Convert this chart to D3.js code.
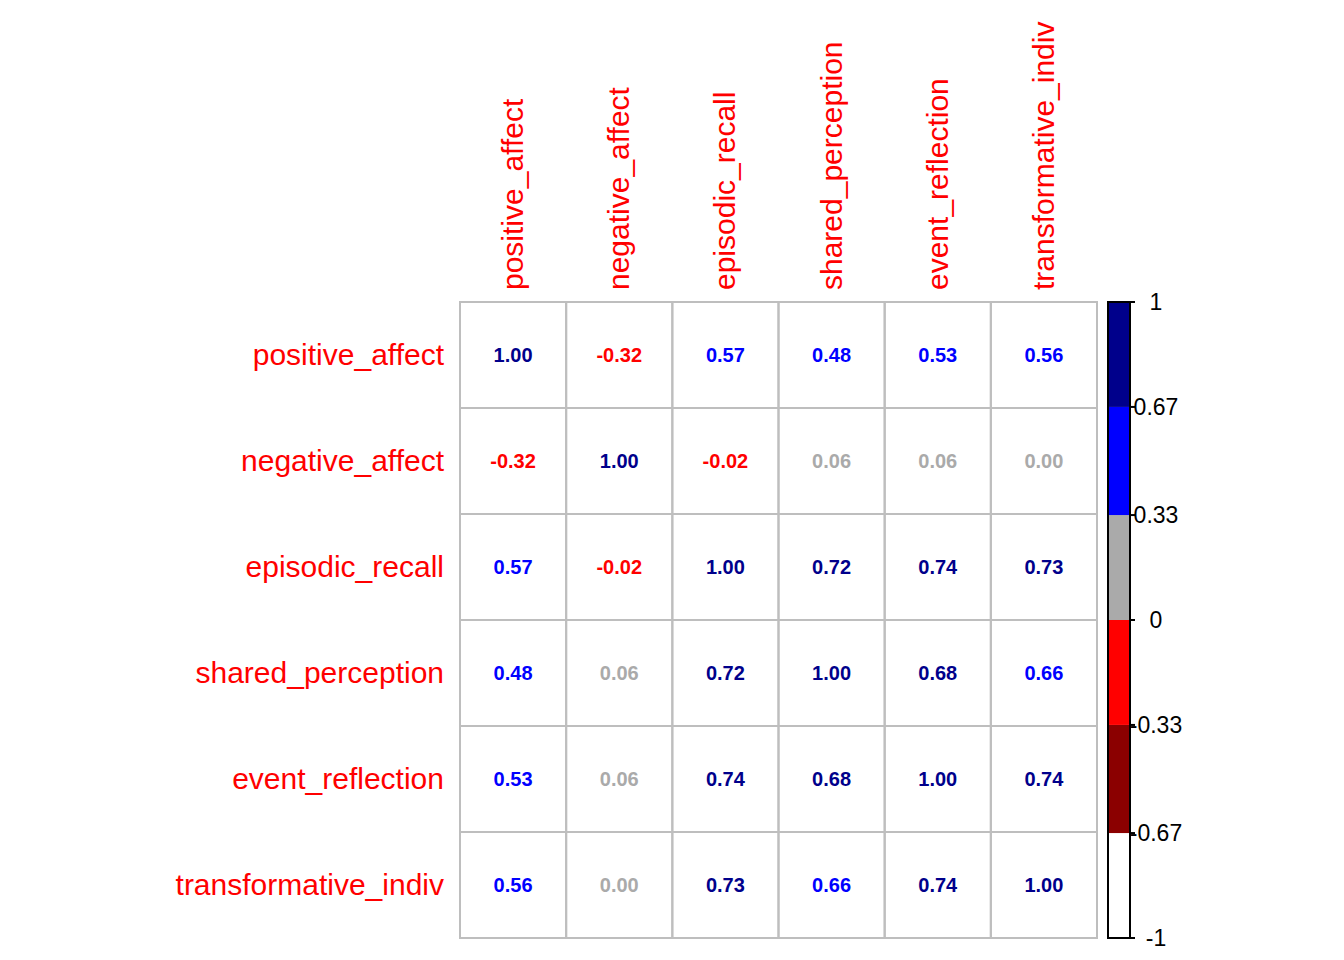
<!DOCTYPE html>
<html>
<head>
<meta charset="UTF-8">
<script src="https://cdn.jsdelivr.net/npm/d3@7"></script>
<style>body{margin:0;background:#fff}</style>
</head>
<body>
<script>
const vars = ['positive_affect','negative_affect','episodic_recall','shared_perception','event_reflection','transformative_indiv'];
const corr = [
  [1.00,-0.32,0.57,0.48,0.53,0.56],
  [-0.32,1.00,-0.02,0.06,0.06,0.00],
  [0.57,-0.02,1.00,0.72,0.74,0.73],
  [0.48,0.06,0.72,1.00,0.68,0.66],
  [0.53,0.06,0.74,0.68,1.00,0.74],
  [0.56,0.00,0.73,0.66,0.74,1.00]
];
const binEdges = [-1,-0.67,-0.33,0,0.33,0.67,1];
const binColors = ['#FFFFFF','#8B0000','#FF0000','#AAAAAA','#0000FF','#00008B'];
const tickLabels = ['-1','-0.67','-0.33','0','0.33','0.67','1'];

const svg = d3.select('body').append('svg').attr('width',1344).attr('height',960);
const x = d3.scaleBand().domain(vars).range([460,1097]);
const y = d3.scaleBand().domain(vars).range([302,938]);
const color = d3.scaleThreshold().domain(binEdges.slice(1,-1)).range(binColors);
const font = 'Liberation Sans, Arial, sans-serif';

// grid
const g = svg.append('g');
vars.forEach((r,i) => vars.forEach((c,j) => {
  g.append('rect').attr('x',x(c)).attr('y',y(r)).attr('width',x.bandwidth()).attr('height',y.bandwidth())
    .attr('fill','none').attr('stroke','#BEBEBE').attr('stroke-width',2);
  const v = corr[i][j];
  g.append('text').attr('x',x(c)+x.bandwidth()/2).attr('y',y(r)+y.bandwidth()/2+7)
    .attr('text-anchor','middle').attr('font-family',font).attr('font-weight','bold').attr('font-size',20)
    .attr('fill',color(v)).text(v.toFixed(2));
}));

// row labels
vars.forEach(v => svg.append('text').attr('x',444).attr('y',y(v)+y.bandwidth()/2+10)
  .attr('text-anchor','end').attr('font-family',font).attr('font-size',30).attr('fill','red').text(v));
// column labels
vars.forEach(v => svg.append('text')
  .attr('transform',`translate(${x(v)+x.bandwidth()/2+10},290) rotate(-90)`)
  .attr('font-family',font).attr('font-size',30).attr('fill','red').text(v));

// colour bar
const cy = d3.scaleLinear().domain([-1,1]).range([938,302]);
const cb = svg.append('g');
binColors.forEach((c,i) => cb.append('rect').attr('x',1108).attr('width',22)
  .attr('y',cy(binEdges[i+1])).attr('height',cy(binEdges[i])-cy(binEdges[i+1])).attr('fill',c));
cb.append('rect').attr('x',1108).attr('y',302).attr('width',22).attr('height',636)
  .attr('fill','none').attr('stroke','black').attr('stroke-width',2);
binEdges.forEach((e,i) => {
  cb.append('line').attr('x1',1130).attr('x2',1135).attr('y1',cy(e)).attr('y2',cy(e)).attr('stroke','black').attr('stroke-width',2);
  cb.append('text').attr('x',1156).attr('y',cy(e)+8).attr('text-anchor','middle')
    .attr('font-family',font).attr('font-size',23).text(tickLabels[i]);
});
</script>
</body>
</html>
